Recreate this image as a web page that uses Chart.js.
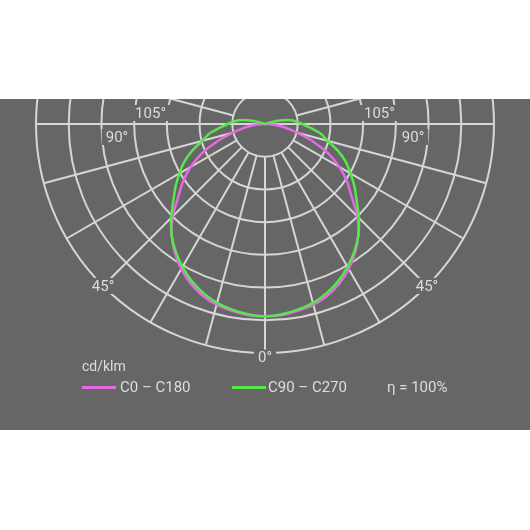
<!DOCTYPE html>
<html>
<head>
<meta charset="utf-8">
<script src="https://cdn.jsdelivr.net/npm/chart.js@4.4.1/dist/chart.umd.min.js"></script>
<style>
html, body { margin: 0; padding: 0; background: #fff; }
#panel {
    position: absolute; left: 0; top: 99px; width: 530px; height: 331px;
    background: #666666; overflow: hidden;
    font-family: Roboto, "Noto Sans", sans-serif; color: #dddddd;
}
#chart { position: absolute; left: 0; top: -204px; }
.t { position: absolute; white-space: nowrap; line-height: 1; font-size: 15px; }
.ln { position: absolute; height: 3px; width: 34px; }
</style>
</head>
<body>
<div id="panel">
    <canvas id="chart" width="530" height="535"></canvas>
    <div class="t" style="left:82px; top:260px; font-size:14px;">cd/klm</div>
    <div id="legend"></div>
</div>

<script>
// gamma angles (deg) and luminous intensity in cd/klm
const gamma = [0, 5, 10, 15, 20, 25, 30, 35, 40, 45, 50, 55, 60, 65, 70, 75, 80, 85, 90,
               95, 100, 105, 110, 115, 120, 125, 130, 135, 140, 145, 150, 155, 160, 165, 170, 175, 180];
const c0c180 = [294, 293, 290, 286, 279, 269, 256, 240, 222, 200, 173, 153, 131, 107, 78, 50, 31, 14, 3,
                0, 0, 0, 0, 0, 0, 0, 0, 0, 0, 0, 0, 0, 0, 0, 0, 0, 0];
const c90c270 = [294, 292, 288, 283, 275, 265, 252, 238, 222, 203, 183, 167, 151, 136, 118, 99, 87, 70, 57,
                 47, 35, 18, 3, 0, 0, 0, 0, 0, 0, 0, 0, 0, 0, 0, 0, 0, 0];
const ringValues = [50, 100, 150, 200, 250, 300, 350];
const seriesNames = ["C0 – C180", "C90 – C270"];
const efficiency = "η = 100%";

const pink = "#e46ae4";
const green = "#58e64c";
const gridColor = "#d6d6d6";
const bgColor = "#666666";

// left half goes 0..180 upwards, right half comes back down 175..5
function fullCircle(arr) {
    return arr.concat(arr.slice(1, arr.length - 1).reverse());
}

const radialAngles = [0, 15, 30, 45, 60, 75, 105];
const angleLabels = [
    { text: "0°", g: 0, dist: 1.02, sides: [1] },
    { text: "45°", g: 45, dist: 1.0, sides: [-1, 1] },
    { text: "90°", g: 85, dist: 0.649, sides: [-1, 1] },
    { text: "105°", g: 95.5, dist: 0.502, sides: [-1, 1] }
];

const polarGrid = {
    id: "polarGrid",
    beforeDatasetsDraw(chart) {
        const s = chart.scales.r;
        const ctx = chart.ctx;
        const n = s.getLabels().length;
        const step = 360 / n;
        const r0 = s.getDistanceFromCenterForValue(ringValues[0]);
        const r1 = s.getDistanceFromCenterForValue(ringValues[ringValues.length - 1]);

        ctx.save();
        ctx.strokeStyle = gridColor;
        ctx.lineWidth = 2;
        ctx.beginPath();
        radialAngles.forEach(g => {
            [g / step, (n - g / step) % n].forEach(idx => {
                const a = s.getPointPosition(idx, r0);
                const b = s.getPointPosition(idx, r1);
                ctx.moveTo(a.x, a.y);
                ctx.lineTo(b.x, b.y);
            });
        });
        // 90 degree line runs straight through the centre
        const l = s.getPointPosition(90 / step, r1);
        const r = s.getPointPosition(n - 90 / step, r1);
        ctx.moveTo(l.x, l.y);
        ctx.lineTo(r.x, r.y);
        ctx.stroke();

        ctx.font = "15px Roboto";
        ctx.textAlign = "center";
        ctx.textBaseline = "middle";
        angleLabels.forEach(lb => {
            lb.sides.forEach(side => {
                const rad = lb.g * Math.PI / 180;
                const d = lb.dist * s.drawingArea;
                const x = s.xCenter + side * d * Math.sin(rad);
                const y = s.yCenter + d * Math.cos(rad);
                const w = ctx.measureText(lb.text).width + 8;
                ctx.fillStyle = bgColor;
                ctx.fillRect(x - w / 2, y - 8, w, 16);
                ctx.fillStyle = "#dcdcdc";
                ctx.fillText(lb.text, x, y + 1);
            });
        });
        ctx.restore();
    }
};

const chart = new Chart(document.getElementById("chart"), {
    type: "radar",
    data: {
        labels: fullCircle(gamma),
        datasets: [{
            label: seriesNames[0],
            data: fullCircle(c0c180),
            borderColor: pink,
            order: 1
        }, {
            label: seriesNames[1],
            data: fullCircle(c90c270),
            borderColor: green,
            order: 0
        }]
    },
    options: {
        responsive: false,
        animation: false,
        layout: { padding: { top: 0, bottom: 77, left: 0, right: 0 } },
        elements: {
            line: { borderWidth: 2.5, fill: false, tension: 0.2 },
            point: { radius: 0, hoverRadius: 0 }
        },
        plugins: {
            legend: { display: false },
            tooltip: { enabled: false }
        },
        scales: {
            r: {
                min: 0,
                max: ringValues[ringValues.length - 1],
                startAngle: 180,
                ticks: { stepSize: ringValues[0], display: false },
                grid: { circular: true, color: gridColor, lineWidth: 2 },
                angleLines: { display: false },
                pointLabels: { display: false }
            }
        }
    },
    plugins: [polarGrid]
});

// legend below the diagram
const legend = document.getElementById("legend");
const legendX = [[82, 120], [232, 268]];
chart.data.datasets.forEach((ds, i) => {
    const line = document.createElement("div");
    line.className = "ln";
    line.style.left = legendX[i][0] + "px";
    line.style.top = "287px";
    line.style.background = ds.borderColor;
    legend.appendChild(line);

    const txt = document.createElement("div");
    txt.className = "t";
    txt.style.left = legendX[i][1] + "px";
    txt.style.top = "281px";
    txt.textContent = ds.label;
    legend.appendChild(txt);
});
const eta = document.createElement("div");
eta.className = "t";
eta.style.left = "387px";
eta.style.top = "281px";
eta.textContent = efficiency;
legend.appendChild(eta);
</script>
</body>
</html>
